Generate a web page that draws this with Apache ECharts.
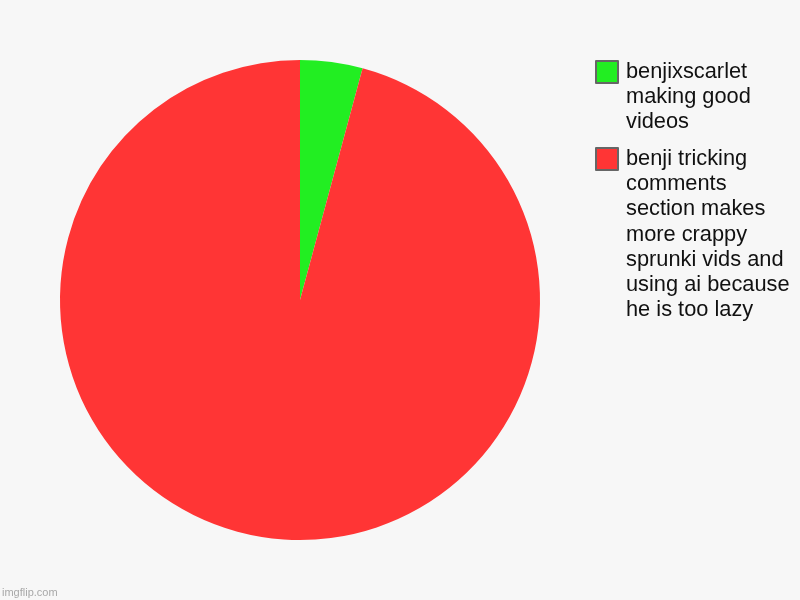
<!DOCTYPE html>
<html lang="en">
<head>
    <meta charset="UTF-8">
    <title>Pie</title>
    <script src="https://cdn.jsdelivr.net/npm/echarts@6/dist/echarts.min.js"></script>
    <style>
        html, body { margin: 0; padding: 0; background: #f7f7f7; }
        #chart_box { width: 800px; height: 600px; }
    </style>
</head>
<body>
<div id="chart_box"></div>
<script>
    // data
    var categories = ['benjixscarlet making good videos',
        'benji tricking comments section makes more crappy sprunki vids and using ai because he is too lazy'];
    var values = [4.2, 95.8];
    var colors = ['#22ee22', '#ff3535'];
    // legend text, wrapped the way the picture wraps it
    var legendLines = [
        ['benjixscarlet', 'making good', 'videos'],
        ['benji tricking', 'comments', 'section makes', 'more crappy', 'sprunki vids and', 'using ai because', 'he is too lazy']
    ];

    var lineH = 25.2;
    var fontSize = 21.8;

    var chart = echarts.init(document.getElementById('chart_box'));

    // one legend per item; blank lines on top push the first line level with the square
    function makeLegend(i, iconTop) {
        var n = legendLines[i].length;
        var iconCenter = iconTop + 11;
        var blank = new Array(n).join('\n');
        return {
            orient: 'vertical',
            left: 595,
            top: iconCenter - (2 * n - 1) * lineH / 2,
            padding: 0,
            itemWidth: 22,
            itemHeight: 22,
            icon: 'rect',
            selectedMode: false,
            itemStyle: { borderColor: '#666', borderWidth: 2 },
            data: [categories[i]],
            formatter: function () { return blank + legendLines[i].join('\n'); },
            textStyle: {
                fontFamily: 'Liberation Sans, Arial, sans-serif',
                fontSize: fontSize,
                lineHeight: lineH,
                color: '#111',
                padding: [0, 0, 0, 3]
            }
        };
    }

    var data = [];
    for (var i = 0; i < categories.length; i++) {
        data.push({ name: categories[i], value: values[i], itemStyle: { color: colors[i] } });
    }

    var option = {
        backgroundColor: '#f7f7f7',
        animation: false,
        title: {
            text: 'imgflip.com',
            left: 2,
            bottom: 2,
            padding: 0,
            textStyle: { fontFamily: 'Liberation Sans, Arial, sans-serif', fontSize: 11, fontWeight: 'normal', color: '#a8a8a8' }
        },
        legend: [makeLegend(0, 61), makeLegend(1, 148)],
        series: [
            {
                type: 'pie',
                center: [300, 300],
                radius: 240,
                startAngle: 90,
                clockwise: true,
                label: { show: false },
                labelLine: { show: false },
                emphasis: { disabled: true },
                itemStyle: { borderWidth: 0 },
                data: data
            }
        ]
    };
    chart.setOption(option);
</script>
</body>
</html>
